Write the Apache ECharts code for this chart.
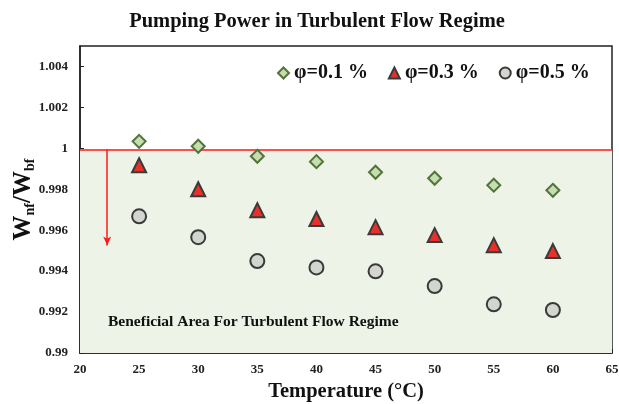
<!DOCTYPE html>
<html><head><meta charset="utf-8">
<script src="https://cdn.jsdelivr.net/npm/echarts@6/dist/echarts.min.js"></script>
<style>html,body{margin:0;padding:0;background:#fff}#c{width:619px;height:404px}</style>
</head><body><div id="c"></div>
<script>
var temperatures = [25, 30, 35, 40, 45, 50, 55, 60];
var phi01 = [1.00034, 1.0001, 0.99961, 0.99935, 0.99883, 0.99854, 0.9982, 0.99795];
var phi03 = [0.99917, 0.998, 0.99698, 0.99655, 0.99615, 0.99576, 0.99527, 0.99498];
var phi05 = [0.99668, 0.99566, 0.99449, 0.99418, 0.99399, 0.99327, 0.99238, 0.9921];
var seriesNames = ['φ=0.1 %', 'φ=0.3 %', 'φ=0.5 %'];
var thresholdValue = 0.99995;
var arrowX = 22.3;
var arrowEnd = 0.99525;
var xTicks = [20, 65, 5];
var yTicks = [0.99, 1.005, 0.002];
var annotation = 'Beneficial Area For Turbulent Flow Regime';

function pairs(v){ return temperatures.map(function(t,i){ return [t, v[i]]; }); }
var serif = 'Liberation Serif, Times New Roman, serif';
var chart = echarts.init(document.getElementById('c'));
chart.setOption({
  animation: false,
  title: { text: 'Pumping Power in Turbulent Flow Regime', left: 312, top: 6, textAlign: 'center',
    textStyle: { fontFamily: serif, fontWeight: 'bold', fontSize: 20.5, color: '#111' } },
  legend: { left: 272, top: 58, itemGap: 20, itemWidth: 11, itemHeight: 11,
    textStyle: { fontFamily: serif, fontWeight: 'bold', fontSize: 20, color: '#111' },
    data: seriesNames },
  grid: { left: 80, right: 7, top: 46, bottom: 51, show: true, borderColor: '#222', borderWidth: 1.5,
    containLabel: false, outerBoundsMode: 'none' },
  xAxis: { type: 'value', min: xTicks[0], max: xTicks[1], interval: xTicks[2],
    name: 'Temperature (°C)', nameLocation: 'middle', nameGap: 28, nameMoveOverlap: false,
    nameTextStyle: { fontFamily: serif, fontWeight: 'bold', fontSize: 20.5, color: '#111' },
    axisLine: { lineStyle: { color: '#222', width: 1.5 } },
    axisTick: { inside: true, length: 4, lineStyle: { color: '#222' } },
    axisLabel: { fontFamily: serif, fontWeight: 'bold', fontSize: 13, color: '#222', margin: 10 },
    splitLine: { show: false } },
  yAxis: { type: 'value', min: yTicks[0], max: yTicks[1], interval: yTicks[2],
    name: '{w|W}{s|nf}{w|/W}{s|bf}', nameLocation: 'middle', nameGap: 43, nameRotate: 90, nameMoveOverlap: false,
    nameTextStyle: { rich: {
      w: { fontFamily: serif, fontWeight: 'bold', fontSize: 25, color: '#111' },
      s: { fontFamily: serif, fontWeight: 'bold', fontSize: 14, color: '#111', verticalAlign: 'bottom', padding: [12,0,0,0] } } },
    axisLine: { show: true, lineStyle: { color: '#222', width: 1.5 } },
    axisTick: { show: true, inside: true, length: 4, lineStyle: { color: '#222' } },
    axisLabel: { fontFamily: serif, fontWeight: 'bold', fontSize: 13, color: '#222', margin: 12, showMaxLabel: false,
      formatter: function(v){ return Math.abs(v-1)<1e-9 ? '1' : (Math.abs(v-0.99)<1e-9 ? '0.99' : v.toFixed(3)); } },
    splitLine: { show: false } },
  graphic: [{ type: 'text', left: 108, top: 314, z: 10,
    style: { text: annotation, fontFamily: serif, fontWeight: 'bold', fontSize: 15.5, fill: '#111' } }],
  series: [
    { name: seriesNames[0], type: 'scatter', symbol: 'diamond', symbolSize: 13, data: pairs(phi01), z: 5,
      itemStyle: { color: '#c6ddb0', borderColor: '#52733a', borderWidth: 2, opacity: 1 },
      markArea: { silent: true, itemStyle: { color: '#edf3e6' },
        data: [[{ xAxis: xTicks[0], yAxis: yTicks[0] }, { xAxis: xTicks[1], yAxis: thresholdValue }]] },
      markLine: { silent: true, symbol: 'none', label: { show: false },
        lineStyle: { color: '#ff1a1a', width: 1.5, type: 'solid' },
        data: [ [{ coord: [xTicks[0], thresholdValue] }, { coord: [xTicks[1], thresholdValue] }],
                [{ coord: [arrowX, thresholdValue], symbol: 'none' }, { coord: [arrowX, arrowEnd], symbol: 'arrow', symbolSize: [6, 9] }] ] } },
    { name: seriesNames[1], type: 'scatter', symbol: 'triangle', symbolSize: 14, data: pairs(phi03), z: 5,
      itemStyle: { color: '#e8302a', borderColor: '#3a3a3a', borderWidth: 2, opacity: 1 } },
    { name: seriesNames[2], type: 'scatter', symbol: 'circle', symbolSize: 14, data: pairs(phi05), z: 5,
      itemStyle: { color: '#d3d6cf', borderColor: '#3a3a3a', borderWidth: 2, opacity: 1 } }
  ]
});
</script></body></html>
